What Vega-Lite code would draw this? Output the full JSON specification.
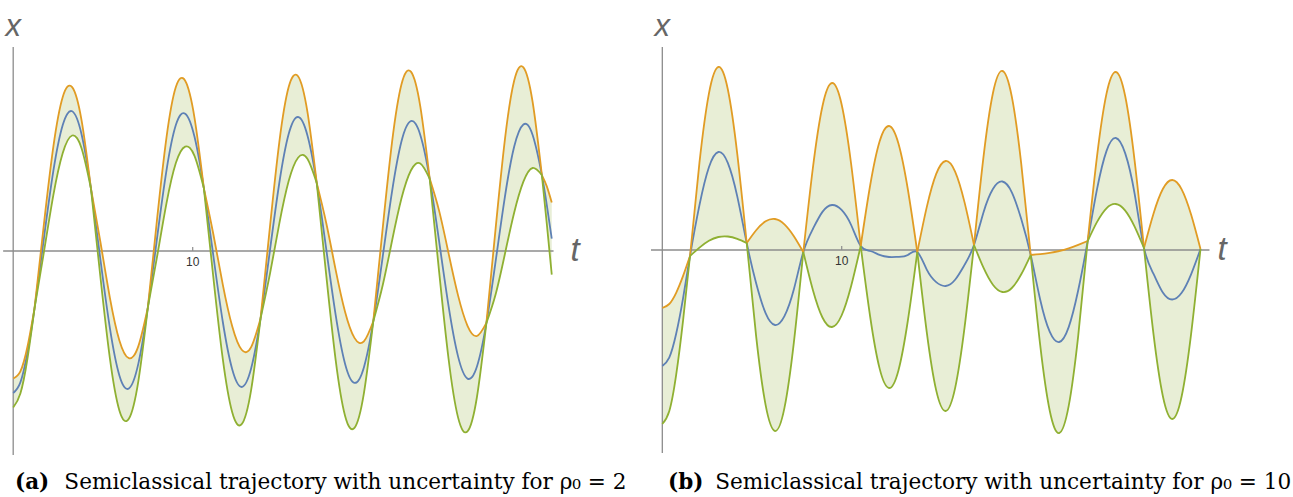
{
"$schema": "https://vega.github.io/schema/vega-lite/v6.json",
"padding": 0,
"spacing": 0,
"background": "white",
"config": {"view": {"stroke": null}},
"datasets": {
"La": [
{"s":0,"t":0,"o":-127.5,"g":-156.5},{"s":0,"t":0.4,"o":-120.3,"g":-142.5},{"s":0,"t":0.8,"o":-95.2,"g":-107.0},{"s":0,"t":1.19,"o":-57.1,"g":-57.1},
{"s":1,"t":1.19,"o":-57.1,"g":-57.1},{"s":1,"t":1.713,"o":27.1,"g":-0.9},{"s":1,"t":2.237,"o":104.3,"g":55.9},{"s":1,"t":2.76,"o":154.0,"g":98.0},{"s":1,"t":3.283,"o":163.9,"g":115.5},{"s":1,"t":3.807,"o":130.8,"g":102.8},{"s":1,"t":4.33,"o":62.7,"g":62.7},
{"s":2,"t":4.33,"o":62.7,"g":62.7},{"s":2,"t":4.858,"o":9.0,"g":-26.0},{"s":2,"t":5.387,"o":-46.8,"g":-107.4},{"s":2,"t":5.915,"o":-89.4,"g":-159.4},{"s":2,"t":6.443,"o":-107.2,"g":-167.8},{"s":2,"t":6.972,"o":-95.1,"g":-130.1},{"s":2,"t":7.5,"o":-56.7,"g":-56.7},
{"s":3,"t":7.5,"o":-56.7,"g":-56.7},{"s":3,"t":8.02,"o":32.8,"g":-5.2},{"s":3,"t":8.54,"o":113.6,"g":47.8},{"s":3,"t":9.06,"o":163.9,"g":87.9},{"s":3,"t":9.58,"o":170.2,"g":104.4},{"s":3,"t":10.1,"o":133.2,"g":95.2},{"s":3,"t":10.62,"o":62.9,"g":62.9},
{"s":4,"t":10.62,"o":62.9,"g":62.9},{"s":4,"t":11.147,"o":17.0,"g":-26.0},{"s":4,"t":11.673,"o":-33.3,"g":-107.7},{"s":4,"t":12.2,"o":-75.3,"g":-161.3},{"s":4,"t":12.727,"o":-98.8,"g":-173.2},{"s":4,"t":13.253,"o":-96.1,"g":-139.1},{"s":4,"t":13.78,"o":-67.4,"g":-67.4},
{"s":5,"t":13.78,"o":-67.4,"g":-67.4},{"s":5,"t":14.302,"o":24.1,"g":-22.9},{"s":5,"t":14.823,"o":108.7,"g":27.3},{"s":5,"t":15.345,"o":163.9,"g":69.9},{"s":5,"t":15.867,"o":174.7,"g":93.3},{"s":5,"t":16.388,"o":139.3,"g":92.3},{"s":5,"t":16.91,"o":67.9,"g":67.9},
{"s":6,"t":16.91,"o":67.9,"g":67.9},{"s":6,"t":17.435,"o":28.3,"g":-23.7},{"s":6,"t":17.96,"o":-18.6,"g":-108.6},{"s":6,"t":18.485,"o":-60.7,"g":-164.7},{"s":6,"t":19.01,"o":-86.9,"g":-176.9},{"s":6,"t":19.535,"o":-90.4,"g":-142.4},{"s":6,"t":20.06,"o":-70.2,"g":-70.2},
{"s":7,"t":20.06,"o":-70.2,"g":-70.2},{"s":7,"t":20.583,"o":22.7,"g":-34.3},{"s":7,"t":21.107,"o":109.3,"g":10.5},{"s":7,"t":21.63,"o":166.7,"g":52.7},{"s":7,"t":22.153,"o":179.3,"g":80.5},{"s":7,"t":22.677,"o":144.6,"g":87.6},{"s":7,"t":23.2,"o":72.4,"g":72.4},
{"s":8,"t":23.2,"o":72.4,"g":72.4},{"s":8,"t":23.727,"o":40.1,"g":-20.9},{"s":8,"t":24.253,"o":-2.4,"g":-108.0},{"s":8,"t":24.78,"o":-44.4,"g":-166.4},{"s":8,"t":25.307,"o":-74.8,"g":-180.4},{"s":8,"t":25.833,"o":-85.0,"g":-146.0},{"s":8,"t":26.36,"o":-71.9,"g":-71.9},
{"s":9,"t":26.36,"o":-71.9,"g":-71.9},{"s":9,"t":26.875,"o":22.8,"g":-43.2},{"s":9,"t":27.39,"o":111.4,"g":-3.0},{"s":9,"t":27.905,"o":170.2,"g":38.2},{"s":9,"t":28.42,"o":183.7,"g":69.3},{"s":9,"t":28.935,"o":149.0,"g":83.0},{"s":9,"t":29.45,"o":75.9,"g":75.9},
{"s":10,"t":29.45,"o":75.9,"g":75.9},{"s":10,"t":29.725,"o":64.6,"g":27.2},{"s":10,"t":30,"o":48.4,"g":-23.6}
],
"Lb": [
{"t":0,"b":-142},{"t":0.4,"b":-131.4},{"t":0.8,"b":-101.1},{"t":1.19,"b":-57.1},{"t":1.713,"b":13.1},{"t":2.237,"b":80.1},{"t":2.76,"b":126.0},{"t":3.283,"b":139.7},{"t":3.807,"b":116.8},{"t":4.33,"b":62.7},{"t":4.858,"b":-8.5},{"t":5.387,"b":-77.1},{"t":5.915,"b":-124.4},{"t":6.443,"b":-137.5},{"t":6.972,"b":-112.6},{"t":7.5,"b":-56.7},{"t":8.02,"b":13.8},{"t":8.54,"b":80.7},{"t":9.06,"b":125.9},{"t":9.58,"b":137.3},{"t":10.1,"b":114.2},{"t":10.62,"b":62.9},{"t":11.147,"b":-4.5},{"t":11.673,"b":-70.5},{"t":12.2,"b":-118.3},{"t":12.727,"b":-136},{"t":13.253,"b":-117.6},{"t":13.78,"b":-67.4},{"t":14.302,"b":0.6},{"t":14.823,"b":68.0},{"t":15.345,"b":116.9},{"t":15.867,"b":134.0},{"t":16.388,"b":115.8},{"t":16.91,"b":67.9},{"t":17.435,"b":2.3},{"t":17.96,"b":-63.6},{"t":18.485,"b":-112.7},{"t":19.01,"b":-131.9},{"t":19.535,"b":-116.4},{"t":20.06,"b":-70.2},{"t":20.583,"b":-5.8},{"t":21.107,"b":59.9},{"t":21.63,"b":109.7},{"t":22.153,"b":129.9},{"t":22.677,"b":116.1},{"t":23.2,"b":72.4},{"t":23.727,"b":9.6},{"t":24.253,"b":-55.2},{"t":24.78,"b":-105.4},{"t":25.307,"b":-127.6},{"t":25.833,"b":-115.5},{"t":26.36,"b":-71.9},{"t":26.875,"b":-10.2},{"t":27.39,"b":54.2},{"t":27.905,"b":104.2},{"t":28.42,"b":126.5},{"t":28.935,"b":116.0},{"t":29.45,"b":75.9},{"t":29.725,"b":45.9},{"t":30,"b":12.4}
],
"Ra": [
{"s":0,"t":0,"o":-58,"g":-174},{"s":0,"t":0.386,"o":-54.0,"g":-161.2},{"s":0,"t":0.772,"o":-42.8,"g":-124.8},{"s":0,"t":1.158,"o":-25.9,"g":-70.3},{"s":0,"t":1.544,"o":-6,"g":-6},
{"s":1,"t":1.544,"o":-6,"g":-6},{"s":1,"t":2.071,"o":87.4,"g":2.4},{"s":1,"t":2.598,"o":156.4,"g":9.2},{"s":1,"t":3.125,"o":183.0,"g":13.0},{"s":1,"t":3.651,"o":160.7,"g":13.5},{"s":1,"t":4.178,"o":96.1,"g":11.1},{"s":1,"t":4.705,"o":7,"g":7},
{"s":2,"t":4.705,"o":7,"g":7},{"s":2,"t":5.231,"o":19.8,"g":-86.3},{"s":2,"t":5.757,"o":28.7,"g":-154.9},{"s":2,"t":6.283,"o":31.0,"g":-181.0},{"s":2,"t":6.808,"o":25.7,"g":-157.9},{"s":2,"t":7.334,"o":13.8,"g":-92.3},{"s":2,"t":7.86,"o":-2,"g":-2},
{"s":3,"t":7.86,"o":-2,"g":-2},{"s":3,"t":8.393,"o":82,"g":-40},{"s":3,"t":8.926,"o":143.8,"g":-67.5},{"s":3,"t":9.46,"o":167,"g":-77},{"s":3,"t":9.993,"o":145.8,"g":-65.5},{"s":3,"t":10.526,"o":86,"g":-36},{"s":3,"t":11.059,"o":4,"g":4},
{"s":4,"t":11.059,"o":4,"g":4},{"s":4,"t":11.585,"o":64.5,"g":-66.5},{"s":4,"t":12.111,"o":108.5,"g":-118.4},{"s":4,"t":12.637,"o":124,"g":-138},{"s":4,"t":13.162,"o":106.5,"g":-120.4},{"s":4,"t":13.688,"o":60.5,"g":-70.5},{"s":4,"t":14.214,"o":-2,"g":-2},
{"s":5,"t":14.214,"o":-2,"g":-2},{"s":5,"t":14.741,"o":42.9,"g":-82.1},{"s":5,"t":15.268,"o":76.1,"g":-140.4},{"s":5,"t":15.795,"o":89,"g":-161},{"s":5,"t":16.321,"o":78.4,"g":-138.1},{"s":5,"t":16.848,"o":47.6,"g":-77.4},{"s":5,"t":17.375,"o":5,"g":5},
{"s":6,"t":17.375,"o":5,"g":5},{"s":6,"t":17.902,"o":92.8,"g":-17.7},{"s":6,"t":18.428,"o":156.7,"g":-34.7},{"s":6,"t":18.955,"o":179,"g":-42},{"s":6,"t":19.482,"o":153.3,"g":-38.0},{"s":6,"t":20.008,"o":86.2,"g":-24.3},{"s":6,"t":20.535,"o":-5,"g":-5},
{"s":7,"t":20.535,"o":-5,"g":-5},{"s":7,"t":21.065,"o":-4.2,"g":-95.2},{"s":7,"t":21.594,"o":-2.9,"g":-160.5},{"s":7,"t":22.124,"o":-1,"g":-183},{"s":7,"t":22.653,"o":1.7,"g":-155.9},{"s":7,"t":23.183,"o":5.2,"g":-85.8},{"s":7,"t":23.712,"o":9,"g":9},
{"s":8,"t":23.712,"o":9,"g":9},{"s":8,"t":24.235,"o":94.1,"g":28.1},{"s":8,"t":24.758,"o":156.1,"g":41.7},{"s":8,"t":25.281,"o":178,"g":46},{"s":8,"t":25.804,"o":153.7,"g":39.4},{"s":8,"t":26.327,"o":89.4,"g":23.4},{"s":8,"t":26.85,"o":2,"g":2},
{"s":9,"t":26.85,"o":2,"g":2},{"s":9,"t":27.375,"o":36.1,"g":-83.4},{"s":9,"t":27.9,"o":61.0,"g":-146.0},{"s":9,"t":28.425,"o":70,"g":-169},{"s":9,"t":28.95,"o":60.6,"g":-146.3},{"s":9,"t":29.475,"o":35.4,"g":-84.1},{"s":9,"t":30,"o":1,"g":1}
],
"Rb": [
{"t":0,"b":-116},{"t":0.386,"b":-107.6},{"t":0.772,"b":-83.8},{"t":1.158,"b":-48.1},{"t":1.544,"b":-6},{"t":2.071,"b":44.9},{"t":2.598,"b":82.8},{"t":3.125,"b":98.0},{"t":3.651,"b":87.1},{"t":4.178,"b":53.6},{"t":4.705,"b":7},{"t":5.231,"b":-33.3},{"t":5.757,"b":-63.1},{"t":6.283,"b":-75.0},{"t":6.808,"b":-66.1},{"t":7.334,"b":-39.3},{"t":7.86,"b":-2},{"t":8.393,"b":21},{"t":8.926,"b":38.1},{"t":9.46,"b":45},{"t":9.993,"b":40.1},{"t":10.526,"b":25},{"t":11.059,"b":4},{"t":11.585,"b":-1},{"t":12.111,"b":-4.9},{"t":12.637,"b":-7},{"t":13.162,"b":-6.9},{"t":13.688,"b":-5},{"t":14.214,"b":-2},{"t":14.741,"b":-19.6},{"t":15.268,"b":-32.1},{"t":15.795,"b":-36},{"t":16.321,"b":-29.8},{"t":16.848,"b":-14.9},{"t":17.375,"b":5},{"t":17.902,"b":37.6},{"t":18.428,"b":61.0},{"t":18.955,"b":68.5},{"t":19.482,"b":57.7},{"t":20.008,"b":30.9},{"t":20.535,"b":-5},{"t":21.065,"b":-49.7},{"t":21.594,"b":-81.7},{"t":22.124,"b":-92},{"t":22.653,"b":-77.1},{"t":23.183,"b":-40.3},{"t":23.712,"b":9},{"t":24.235,"b":61.1},{"t":24.758,"b":98.9},{"t":25.281,"b":112},{"t":25.804,"b":96.6},{"t":26.327,"b":56.4},{"t":26.85,"b":2},{"t":27.375,"b":-23.7},{"t":27.9,"b":-42.5},{"t":28.425,"b":-49.5},{"t":28.95,"b":-42.8},{"t":29.475,"b":-24.3},{"t":30,"b":1}
]
},
"hconcat": [
{
"width": 646, "height": 497,
"layer": [
{"data": {"name": "La"}, "mark": {"type": "area", "interpolate": "natural", "color": "#E8EED6"},
 "encoding": {"x": {"field": "t", "type": "quantitative", "scale": {"domain": [-0.735, 35.25], "nice": false, "zero": false}, "axis": null},
  "y": {"field": "o", "type": "quantitative", "scale": {"domain": [-246, 251], "nice": false, "zero": false}, "axis": null},
  "y2": {"field": "g"}, "detail": {"field": "s"}}},
{"data": {"values": [{}]}, "mark": {"type": "rule", "color": "#8c8c8c", "strokeWidth": 1.3},
 "encoding": {"x": {"datum": -0.56}, "x2": {"datum": 30.1}, "y": {"datum": 0}}},
{"data": {"values": [{}]}, "mark": {"type": "rule", "color": "#8c8c8c", "strokeWidth": 1.3},
 "encoding": {"x": {"datum": 0}, "y": {"datum": -204}, "y2": {"datum": 204}}},
{"data": {"values": [{}]}, "mark": {"type": "rule", "color": "#8c8c8c", "strokeWidth": 1.2},
 "encoding": {"x": {"datum": 10}, "y": {"datum": 0}, "y2": {"datum": 4}}},
{"data": {"name": "Lb"}, "mark": {"type": "line", "interpolate": "natural", "color": "#5E81B5", "strokeWidth": 1.8},
 "encoding": {"x": {"field": "t", "type": "quantitative"}, "y": {"field": "b", "type": "quantitative"}}},
{"data": {"name": "La"}, "mark": {"type": "line", "interpolate": "natural", "color": "#E19C24", "strokeWidth": 1.8},
 "encoding": {"x": {"field": "t", "type": "quantitative"}, "y": {"field": "o", "type": "quantitative"}, "detail": {"field": "s"}}},
{"data": {"name": "La"}, "mark": {"type": "line", "interpolate": "natural", "color": "#8FB032", "strokeWidth": 1.8},
 "encoding": {"x": {"field": "t", "type": "quantitative"}, "y": {"field": "g", "type": "quantitative"}, "detail": {"field": "s"}}},
{"data": {"values": [{}]}, "mark": {"type": "text", "text": "10", "font": "Liberation Sans", "fontSize": 12, "fill": "#333333", "align": "center", "baseline": "middle", "dy": 11},
 "encoding": {"x": {"datum": 10}, "y": {"datum": 0}}},
{"data": {"values": [{}]}, "mark": {"type": "text", "text": "t", "font": "Liberation Sans", "fontStyle": "italic", "fontSize": 33, "fill": "#666666", "align": "center", "baseline": "middle"},
 "encoding": {"x": {"datum": 31.3}, "y": {"datum": 0}}},
{"data": {"values": [{}]}, "mark": {"type": "text", "text": "x", "font": "Liberation Sans", "fontStyle": "italic", "fontSize": 31, "fill": "#666666", "align": "center", "baseline": "middle"},
 "encoding": {"x": {"datum": 0}, "y": {"datum": 224}}},
{"data": {"values": [{}]}, "mark": {"type": "text", "text": "(a)", "font": "DejaVu Serif", "fontWeight": "bold", "fontSize": 21.5, "fill": "#000000", "align": "left", "baseline": "middle"},
 "encoding": {"x": {"datum": 0.1}, "y": {"datum": -232}}},
{"data": {"values": [{}]}, "mark": {"type": "text", "text": "Semiclassical trajectory with uncertainty for ρ₀ = 2", "font": "DejaVu Serif", "fontSize": 21.6, "fill": "#000000", "align": "left", "baseline": "middle"},
 "encoding": {"x": {"datum": 2.85}, "y": {"datum": -232}}}
]
},
{
"width": 647, "height": 497,
"layer": [
{"data": {"name": "Ra"}, "mark": {"type": "area", "interpolate": "natural", "color": "#E8EED6"},
 "encoding": {"x": {"field": "t", "type": "quantitative", "scale": {"domain": [-0.909, 35.156], "nice": false, "zero": false}, "axis": null},
  "y": {"field": "o", "type": "quantitative", "scale": {"domain": [-247, 250], "nice": false, "zero": false}, "axis": null},
  "y2": {"field": "g"}, "detail": {"field": "s"}}},
{"data": {"values": [{}]}, "mark": {"type": "rule", "color": "#8c8c8c", "strokeWidth": 1.3},
 "encoding": {"x": {"datum": -0.63}, "x2": {"datum": 30.5}, "y": {"datum": 0}}},
{"data": {"values": [{}]}, "mark": {"type": "rule", "color": "#8c8c8c", "strokeWidth": 1.3},
 "encoding": {"x": {"datum": 0}, "y": {"datum": -203}, "y2": {"datum": 203}}},
{"data": {"values": [{}]}, "mark": {"type": "rule", "color": "#8c8c8c", "strokeWidth": 1.2},
 "encoding": {"x": {"datum": 10}, "y": {"datum": 0}, "y2": {"datum": 4}}},
{"data": {"name": "Rb"}, "mark": {"type": "line", "interpolate": "natural", "color": "#5E81B5", "strokeWidth": 1.8},
 "encoding": {"x": {"field": "t", "type": "quantitative"}, "y": {"field": "b", "type": "quantitative"}}},
{"data": {"name": "Ra"}, "mark": {"type": "line", "interpolate": "natural", "color": "#E19C24", "strokeWidth": 1.8},
 "encoding": {"x": {"field": "t", "type": "quantitative"}, "y": {"field": "o", "type": "quantitative"}, "detail": {"field": "s"}}},
{"data": {"name": "Ra"}, "mark": {"type": "line", "interpolate": "natural", "color": "#8FB032", "strokeWidth": 1.8},
 "encoding": {"x": {"field": "t", "type": "quantitative"}, "y": {"field": "g", "type": "quantitative"}, "detail": {"field": "s"}}},
{"data": {"values": [{}]}, "mark": {"type": "text", "text": "10", "font": "Liberation Sans", "fontSize": 12, "fill": "#333333", "align": "center", "baseline": "middle", "dy": 11},
 "encoding": {"x": {"datum": 10}, "y": {"datum": 0}}},
{"data": {"values": [{}]}, "mark": {"type": "text", "text": "t", "font": "Liberation Sans", "fontStyle": "italic", "fontSize": 33, "fill": "#666666", "align": "center", "baseline": "middle"},
 "encoding": {"x": {"datum": 31.2}, "y": {"datum": 0}}},
{"data": {"values": [{}]}, "mark": {"type": "text", "text": "x", "font": "Liberation Sans", "fontStyle": "italic", "fontSize": 31, "fill": "#666666", "align": "center", "baseline": "middle"},
 "encoding": {"x": {"datum": 0}, "y": {"datum": 223}}},
{"data": {"values": [{}]}, "mark": {"type": "text", "text": "(b)", "font": "DejaVu Serif", "fontWeight": "bold", "fontSize": 21.5, "fill": "#000000", "align": "left", "baseline": "middle"},
 "encoding": {"x": {"datum": 0.32}, "y": {"datum": -233}}},
{"data": {"values": [{}]}, "mark": {"type": "text", "text": "Semiclassical trajectory with uncertainty for ρ₀ = 10", "font": "DejaVu Serif", "fontSize": 21.6, "fill": "#000000", "align": "left", "baseline": "middle"},
 "encoding": {"x": {"datum": 2.95}, "y": {"datum": -233}}}
]
}
]
}
